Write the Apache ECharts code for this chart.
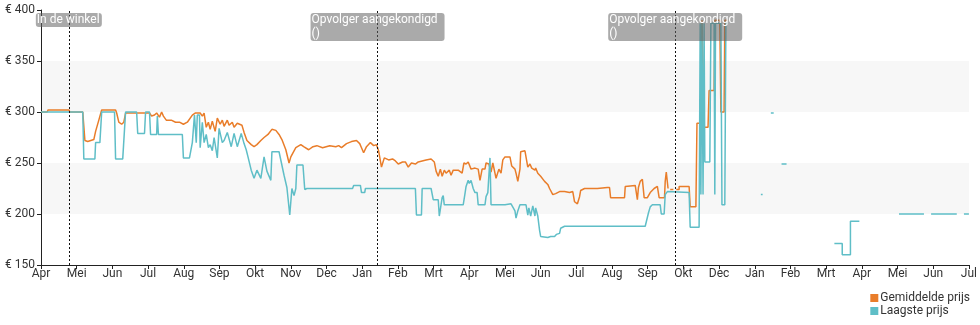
<!DOCTYPE html>
<html>
<head>
<meta charset="utf-8">
<script src="https://cdn.jsdelivr.net/npm/echarts@6/dist/echarts.min.js"></script>
<style>
html,body{margin:0;padding:0;background:#fff;}
#chart{width:980px;height:325px;}
</style>
</head>
<body>
<div id="chart"></div>
<script>
// x values are month indices counted from the first "Apr" tick
const monthLabels = ['Apr','Mei','Jun','Jul','Aug','Sep','Okt','Nov','Dec','Jan','Feb','Mrt','Apr','Mei','Jun','Jul','Aug','Sep','Okt','Dec','Jan','Feb','Mrt','Apr','Mei','Jun','Jul'];

const avgPrice = [[0,300],[0.17,300],[0.20,302],[0.78,302],[0.81,300],[1.17,300],[1.23,272],[1.31,271],[1.48,273],[1.53,281],[1.62,292],[1.70,302],[2.09,302],[2.12,299],[2.18,290],[2.26,288],[2.32,290],[2.37,299],[3.04,299],[3.10,296],[3.18,297],[3.24,299],[3.32,295],[3.38,300],[3.43,296],[3.51,292],[3.65,292],[3.77,290],[3.88,290],[3.99,288],[4.10,290],[4.24,297],[4.32,299],[4.46,299],[4.52,296],[4.57,299],[4.63,285],[4.69,290],[4.74,283],[4.80,291],[4.88,281],[4.94,294],[5.02,288],[5.08,292],[5.13,286],[5.22,292],[5.27,287],[5.36,290],[5.41,285],[5.50,289],[5.63,287],[5.69,280],[5.77,272],[5.89,268],[5.97,266],[6.05,268],[6.16,272],[6.25,275],[6.36,278],[6.47,283],[6.58,282],[6.67,278],[6.75,273],[6.86,263],[6.95,250],[7.00,256],[7.06,260],[7.14,265],[7.28,268],[7.36,266],[7.50,263],[7.62,266],[7.73,267],[7.89,265],[8.09,267],[8.26,266],[8.34,267],[8.42,265],[8.56,269],[8.70,271],[8.84,272],[8.93,269],[8.98,265],[9.04,260],[9.12,266],[9.23,270],[9.32,267],[9.40,268],[9.46,262],[9.54,246],[9.62,255],[9.74,253],[9.85,254],[9.93,252],[10.01,249],[10.13,251],[10.21,251],[10.29,246],[10.38,250],[10.49,249],[10.57,251],[10.68,252],[10.79,253],[10.93,254],[11.02,251],[11.07,242],[11.13,237],[11.19,244],[11.24,237],[11.30,243],[11.35,240],[11.44,243],[11.49,238],[11.55,243],[11.69,243],[11.80,240],[11.85,250],[11.91,249],[11.97,251],[12.05,244],[12.16,245],[12.25,244],[12.30,233],[12.36,244],[12.44,244],[12.47,250],[12.55,249],[12.61,241],[12.66,250],[12.72,240],[12.75,235],[12.83,244],[12.89,240],[12.94,253],[13.00,256],[13.14,256],[13.19,247],[13.28,244],[13.31,240],[13.36,232],[13.42,244],[13.44,261],[13.56,262],[13.61,261],[13.64,246],[13.70,249],[13.75,245],[13.84,243],[13.86,245],[13.92,240],[14.00,237],[14.11,232],[14.20,229],[14.25,225],[14.34,219],[14.42,220],[14.53,222],[14.67,222],[14.81,221],[14.90,222],[14.95,212],[15.03,210],[15.09,217],[15.12,223],[15.17,222],[15.23,225],[15.59,225],[15.87,226],[15.93,226],[15.96,216],[16.35,216],[16.37,227],[16.65,228],[16.71,214],[16.74,226],[16.79,232],[16.85,234],[16.90,216],[16.99,216],[17.07,221],[17.18,225],[17.27,227],[17.32,216],[17.47,216],[17.49,232],[17.52,241],[17.57,225],[17.60,null],[17.63,224],[17.72,224],[17.75,null],[17.80,224],[17.88,224],[17.88,227],[18.16,227],[18.19,207],[18.35,207],[18.38,289],[18.49,289],[18.52,390],[18.55,390],[18.58,285],[18.69,285],[18.72,321],[18.86,321],[18.88,390],[19.02,390],[19.05,300],[19.14,300],[19.16,390],[19.22,390]];

const lowPrice = [[0,300],[1.17,300],[1.20,254],[1.51,254],[1.53,270],[1.65,270],[1.70,300],[2.06,300],[2.09,254],[2.29,254],[2.34,283],[2.37,300],[2.68,300],[2.71,279],[2.90,279],[2.93,300],[3.04,300],[3.07,278],[3.24,278],[3.26,296],[3.29,278],[3.96,278],[3.99,255],[4.16,255],[4.24,270],[4.30,297],[4.35,270],[4.38,297],[4.44,297],[4.46,265],[4.52,290],[4.57,270],[4.63,278],[4.69,265],[4.74,268],[4.80,262],[4.85,275],[4.94,255],[4.99,284],[5.08,270],[5.13,272],[5.22,280],[5.33,266],[5.41,279],[5.50,266],[5.61,279],[5.69,269],[5.75,263],[5.80,256],[5.89,243],[5.97,235],[6.05,243],[6.16,235],[6.25,256],[6.33,242],[6.44,233],[6.47,261],[6.67,261],[6.81,238],[6.89,226],[6.97,199],[7.03,225],[7.09,218],[7.14,225],[7.17,248],[7.34,248],[7.39,224],[7.45,225],[8.73,225],[8.76,228],[8.95,228],[8.98,221],[9.07,221],[9.09,225],[10.49,225],[10.52,199],[10.66,199],[10.68,225],[10.93,225],[10.99,214],[11.13,214],[11.16,198],[11.21,198],[11.24,216],[11.27,218],[11.30,209],[11.83,209],[11.88,220],[11.91,227],[11.97,233],[12.00,230],[12.05,233],[12.11,225],[12.16,221],[12.22,221],[12.25,209],[12.44,209],[12.47,217],[12.52,221],[12.58,255],[12.61,209],[13.00,209],[13.03,210],[13.17,210],[13.28,203],[13.31,196],[13.36,203],[13.42,209],[13.59,209],[13.64,199],[13.67,206],[13.72,198],[13.78,208],[13.84,198],[13.86,206],[13.92,198],[13.97,184],[14.00,178],[14.20,177],[14.28,178],[14.39,178],[14.44,180],[14.53,181],[14.56,186],[14.67,188],[16.93,188],[17.02,201],[17.07,207],[17.13,209],[17.35,209],[17.38,200],[17.46,200],[17.49,219],[17.55,222],[18.16,221],[18.19,187],[18.44,187],[18.47,387],[18.49,219],[18.52,387],[18.55,219],[18.58,387],[18.60,251],[18.74,251],[18.77,387],[18.86,387],[18.88,219],[18.90,387],[19.05,387],[19.08,209],[19.16,209],[19.19,387],[19.25,387],[19.28,null],
[20.17,219],[20.22,219],[20.25,null],[20.45,299],[20.53,299],[20.56,null],[20.75,249],[20.89,249],[20.92,null],
[22.23,171],[22.45,171],[22.45,160],[22.68,160],[22.68,193],[22.93,193],[22.96,null],
[24.04,200],[24.74,200],[24.80,null],[24.94,200],[25.66,200],[25.75,null],[25.86,200],[26.0,200]];

const eventX = [0.78, 9.43, 17.77];
const eventText = ['In de winkel', 'Opvolger aangekondigd\n()', 'Opvolger aangekondigd\n()'];
const eventWidth = [64, 132, 132];

const chart = echarts.init(document.getElementById('chart'), null, {renderer: 'canvas'});
const font = 'Roboto';
const option = {
  animation: false,
  textStyle: {fontFamily: font},
  grid: {left: 41, right: 7, top: 10, bottom: 60},
  legend: {
    data: ['Gemiddelde prijs', 'Laagste prijs'],
    orient: 'vertical',
    right: 5, top: 287,
    itemWidth: 8, itemHeight: 8, itemGap: 1,
    icon: 'rect',
    textStyle: {fontFamily: font, fontSize: 12, color: '#333', padding: [0,0,0,-3]}
  },
  xAxis: {
    type: 'value', min: 0, max: 26, interval: 1,
    axisLine: {show: true, lineStyle: {color: '#222', width: 1}},
    axisTick: {show: true, length: 4, lineStyle: {color: '#222'}},
    splitLine: {show: false},
    axisLabel: {
      fontFamily: font, fontSize: 12, color: '#333', margin: 3,
      formatter: v => monthLabels[Math.round(v)] || ''
    }
  },
  yAxis: {
    type: 'value', min: 150, max: 400, interval: 50,
    axisLine: {show: true, lineStyle: {color: '#222', width: 1}},
    axisTick: {show: true, length: 4, lineStyle: {color: '#222'}},
    splitLine: {show: false},
    splitArea: {show: true, areaStyle: {color: ['rgba(0,0,0,0)', '#f7f7f7']}},
    axisLabel: {fontFamily: font, fontSize: 12, color: '#333', margin: 6, formatter: v => '€ ' + v}
  },
  series: [
    {
      name: 'Gemiddelde prijs', type: 'line', data: avgPrice,
      showSymbol: false, connectNulls: false, z: 2,
      lineStyle: {color: '#e97d2a', width: 1.5},
      itemStyle: {color: '#e97d2a'}
    },
    {
      name: 'Laagste prijs', type: 'line', data: lowPrice,
      showSymbol: false, connectNulls: false, z: 3,
      lineStyle: {color: '#5fbec7', width: 1.5},
      itemStyle: {color: '#5fbec7'}
    },
    {
      name: 'events', type: 'line', data: [], z: 10,
      markLine: {
        silent: true, symbol: 'none',
        label: {show: false},
        lineStyle: {color: '#111', type: [2, 2], width: 1},
        data: eventX.map(x => ({xAxis: x}))
      },
      markPoint: {
        silent: true,
        symbol: 'rect', symbolSize: 0,
        data: eventX.map((x, i) => ({
          coord: [x, 400],
          label: {
            show: true, position: 'bottom', distance: 3,
            formatter: eventText[i].split('\n').map(t => '{a|' + t + '}').join('\n'),
            backgroundColor: 'rgba(100,100,100,0.55)',
            borderRadius: 3, padding: [0, 1, 0, 1],
            rich: {a: {color: '#fff', fontFamily: font, fontSize: 12, lineHeight: 14, width: eventWidth[i], align: 'left'}}
          }
        }))
      }
    }
  ]
};
chart.setOption(option);
</script>
</body>
</html>
